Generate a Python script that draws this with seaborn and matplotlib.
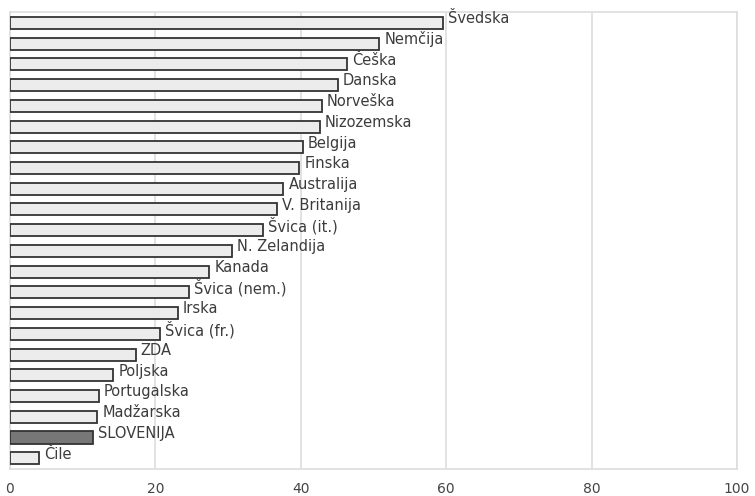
import matplotlib
matplotlib.use("Agg")
import matplotlib.pyplot as plt
import seaborn as sns
import pandas as pd

countries = ["Švedska", "Nemčija", "Češka", "Danska", "Norveška", "Nizozemska",
             "Belgija", "Finska", "Australija", "V. Britanija", "Švica (it.)",
             "N. Zelandija", "Kanada", "Švica (nem.)", "Irska", "Švica (fr.)",
             "ZDA", "Poljska", "Portugalska", "Madžarska", "SLOVENIJA", "Čile"]
values = [59.6, 50.8, 46.4, 45.1, 42.9, 42.6, 40.3, 39.8, 37.6, 36.7, 34.8,
          30.5, 27.4, 24.6, 23.1, 20.6, 17.3, 14.2, 12.2, 12.0, 11.4, 4.0]
xticks = [0, 20, 40, 60, 80, 100]

df = pd.DataFrame({"country": countries, "value": values})
palette = {c: ("#777777" if c == "SLOVENIJA" else "#ececec") for c in countries}

sns.set_style("white")
plt.rcParams['font.family'] = ['DejaVu Sans']

fig = plt.figure(figsize=(7.55, 4.96), dpi=100)
ax = fig.add_axes([0.0132, 0.054, 0.963, 0.922])

sns.barplot(data=df, x="value", y="country", hue="country", palette=palette,
            legend=False, orient="h", width=0.58, edgecolor="#333333",
            linewidth=1.3, ax=ax, zorder=3)

for i, (c, v) in enumerate(zip(countries, values)):
    ax.text(v + 0.7, i - 0.2, c, va="center", ha="left", fontsize=10.5,
            color="#3c3c3c", zorder=4)

ax.set_xlim(0, 100)
ax.set_ylim(len(countries) - 0.47, -0.53)
ax.set_xticks(xticks)
ax.set_xticklabels([str(t) for t in xticks], fontsize=10, color="#444444")
ax.tick_params(axis="x", length=0, pad=9)
ax.set_yticks([])
ax.set_xlabel("")
ax.set_ylabel("")
ax.xaxis.grid(True, color="#dddddd", linewidth=1.2, zorder=0)
ax.set_axisbelow(True)
for s in ax.spines.values():
    s.set_color("#dddddd")
    s.set_linewidth(1.2)

fig.savefig("out.png", dpi=100)
